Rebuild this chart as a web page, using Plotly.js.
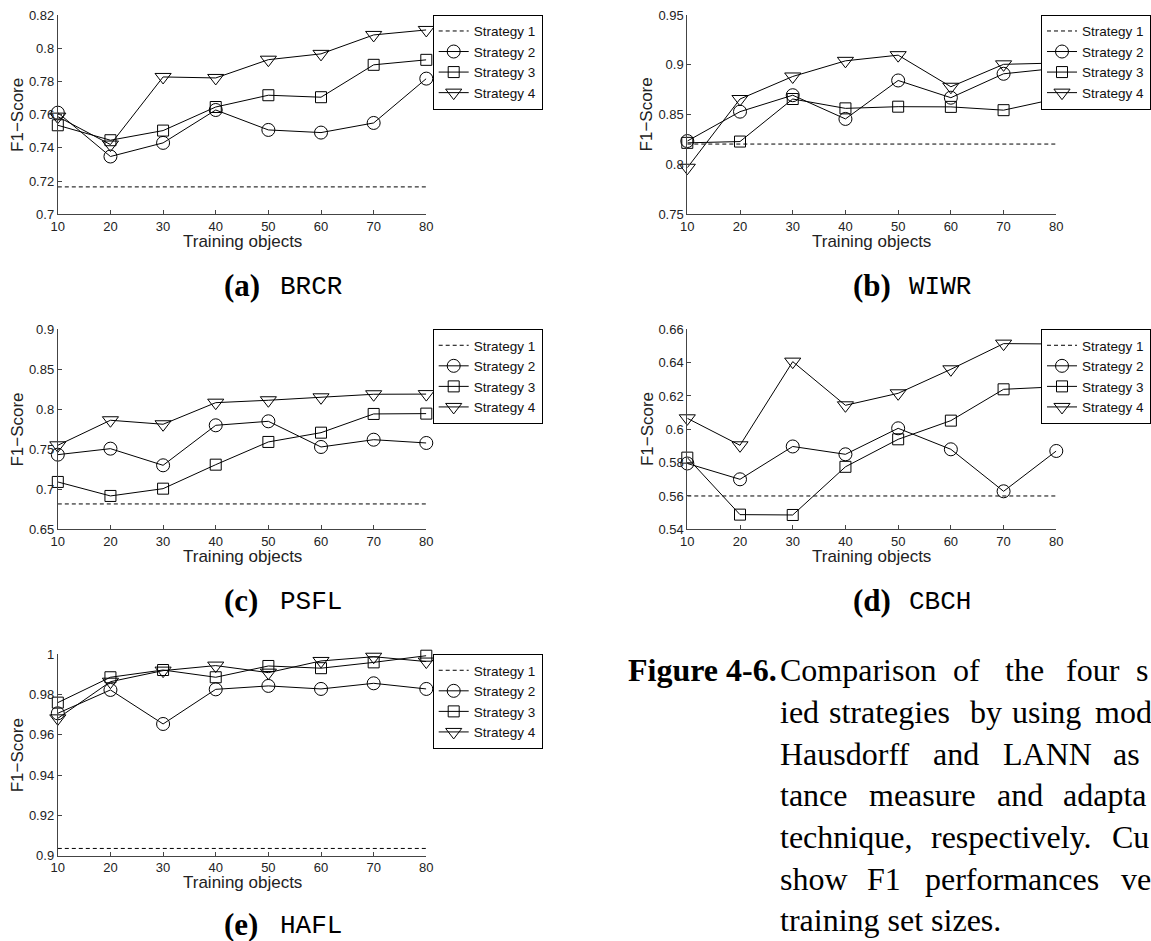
<!DOCTYPE html>
<html>
<head>
<meta charset="utf-8">
<script src="https://cdn.plot.ly/plotly-3.0.1.min.js"></script>
<style>
  html, body { margin: 0; padding: 0; background: #fff; overflow: hidden; }
  #fig { width: 1151px; height: 941px; }
</style>
</head>
<body>
<div id="fig"></div>
<script>
// Number of training objects on the x axis
const trainingObjects = [10, 20, 30, 40, 50, 60, 70, 80];
const strategyNames = ['Strategy 1', 'Strategy 2', 'Strategy 3', 'Strategy 4'];

// F1 scores per dataset. Strategy 1 does not use the training objects,
// so it is a single score per dataset drawn across the whole range.
const brcrStrategy1 = 0.7165;
const brcrStrategy2 = [0.7612, 0.7348, 0.7430, 0.7628, 0.7508, 0.7492, 0.7550, 0.7817];
const brcrStrategy3 = [0.7536, 0.7446, 0.7504, 0.7646, 0.7717, 0.7705, 0.7900, 0.7930];
const brcrStrategy4 = [0.7588, 0.7420, 0.7827, 0.7821, 0.7931, 0.7966, 0.8080, 0.8110];

const wiwrStrategy1 = 0.8205;
const wiwrStrategy2 = [0.8235, 0.8530, 0.8695, 0.8457, 0.8843, 0.8670, 0.8910, 0.8965];
const wiwrStrategy3 = [0.8217, 0.8230, 0.8657, 0.8563, 0.8580, 0.8578, 0.8545, 0.8660];
const wiwrStrategy4 = [0.7967, 0.8657, 0.8883, 0.9040, 0.9097, 0.8780, 0.9005, 0.9018];

const psflStrategy1 = 0.6817;
const psflStrategy2 = [0.7433, 0.7508, 0.7300, 0.7800, 0.7850, 0.7529, 0.7620, 0.7579];
const psflStrategy3 = [0.7092, 0.6917, 0.7008, 0.7308, 0.7592, 0.7708, 0.7942, 0.7946];
const psflStrategy4 = [0.7550, 0.7863, 0.7813, 0.8083, 0.8113, 0.8150, 0.8188, 0.8190];

const cbchStrategy1 = 0.5600;
const cbchStrategy2 = [0.5795, 0.5700, 0.5897, 0.5850, 0.6006, 0.5880, 0.5628, 0.5870];
const cbchStrategy3 = [0.5830, 0.5488, 0.5486, 0.5775, 0.5940, 0.6052, 0.6240, 0.6255];
const cbchStrategy4 = [0.6066, 0.5904, 0.6406, 0.6144, 0.6216, 0.6360, 0.6514, 0.6512];

const haflStrategy1 = 0.9036;
const haflStrategy2 = [0.9707, 0.9823, 0.9654, 0.9826, 0.9843, 0.9828, 0.9856, 0.9828];
const haflStrategy3 = [0.9760, 0.9886, 0.9922, 0.9886, 0.9942, 0.9931, 0.9960, 0.9993];
const haflStrategy4 = [0.9682, 0.9864, 0.9919, 0.9944, 0.9909, 0.9967, 0.9988, 0.9964];

// Sub-figure labels
const panelTags = ['(a)', '(b)', '(c)', '(d)', '(e)'];
const datasetNames = ['BRCR', 'WIWR', 'PSFL', 'CBCH', 'HAFL'];
const xTitle = 'Training objects';
const yTitle = 'F1\u2212Score';

// Y-axis ranges and tick steps of each panel
const yRanges = [[0.70, 0.82], [0.75, 0.95], [0.65, 0.90], [0.54, 0.66], [0.90, 1.00]];
const yDticks = [0.02, 0.05, 0.05, 0.02, 0.02];

const seriesByPanel = [
  [brcrStrategy1, brcrStrategy2, brcrStrategy3, brcrStrategy4],
  [wiwrStrategy1, wiwrStrategy2, wiwrStrategy3, wiwrStrategy4],
  [psflStrategy1, psflStrategy2, psflStrategy3, psflStrategy4],
  [cbchStrategy1, cbchStrategy2, cbchStrategy3, cbchStrategy4],
  [haflStrategy1, haflStrategy2, haflStrategy3, haflStrategy4]
];

// ---- page geometry (pixels) ----
const W = 1151, H = 941;
const fx = px => px / W;
const fy = px => 1 - px / H;

// plot boxes: [left, right, top, bottom] in pixels
const boxes = [
  [57.8, 426.3, 15.0, 214.3],
  [687.3, 1056.3, 15.0, 214.3],
  [57.8, 426.3, 329.3, 529.3],
  [687.3, 1056.3, 329.3, 529.3],
  [57.8, 426.3, 654.3, 855.7]
];

const SANS = 'Liberation Sans, Arial, sans-serif';
const SERIF = 'Liberation Serif, Times New Roman, serif';
const MONO = 'Liberation Mono, Courier New, monospace';

const markerStyles = [
  null,
  { symbol: 'circle-open', size: 13 },
  { symbol: 'square-open', size: 11 },
  { symbol: 'triangle-down-open', size: 14 }
];

const traces = [];
const layout = {
  width: W, height: H,
  margin: { l: 0, r: 0, t: 0, b: 0 },
  paper_bgcolor: '#fff', plot_bgcolor: 'rgba(0,0,0,0)',
  showlegend: true,
  font: { family: SANS, color: '#222' },
  annotations: []
};

boxes.forEach((b, i) => {
  const n = i === 0 ? '' : String(i + 1);
  const xa = 'x' + n, ya = 'y' + n;
  const legendId = 'legend' + n;
  const series = seriesByPanel[i];

  strategyNames.forEach((name, k) => {
    const base = {
      x: trainingObjects,
      name: name,
      xaxis: xa, yaxis: ya,
      legend: legendId,
      cliponaxis: false,
      hoverinfo: 'skip'
    };
    if (k === 0) {
      traces.push(Object.assign(base, {
        y: trainingObjects.map(() => series[0]),
        mode: 'lines',
        line: { color: '#000', width: 1, dash: '4px,3px' }
      }));
    } else {
      const m = markerStyles[k];
      traces.push(Object.assign(base, {
        y: series[k],
        mode: 'lines+markers',
        line: { color: '#000', width: 1 },
        marker: { symbol: m.symbol, size: m.size, color: '#000', line: { color: '#000', width: 1 } }
      }));
    }
  });

  const axisCommon = {
    showline: true, linecolor: '#444', linewidth: 1,
    showgrid: false, zeroline: false, mirror: false,
    ticks: 'inside', ticklen: 4, tickwidth: 1, tickcolor: '#444',
    tickfont: { family: SANS, size: 13, color: '#222' },
    fixedrange: true
  };

  layout['xaxis' + n] = Object.assign({}, axisCommon, {
    domain: [fx(b[0]), fx(b[1])],
    anchor: ya,
    range: [10, 80],
    tickmode: 'array', tickvals: trainingObjects
  });
  layout['yaxis' + n] = Object.assign({}, axisCommon, {
    domain: [fy(b[3]), fy(b[2])],
    anchor: xa,
    range: yRanges[i],
    tick0: yRanges[i][0], dtick: yDticks[i]
  });

  // axis titles, placed relative to each plot area
  layout.annotations.push({
    xref: xa + ' domain', yref: ya + ' domain', showarrow: false,
    x: 0.5, xanchor: 'center', y: 0, yanchor: 'middle', yshift: -27,
    text: xTitle, font: { family: SANS, size: 17, color: '#222' }
  });
  layout.annotations.push({
    xref: xa + ' domain', yref: ya + ' domain', showarrow: false,
    x: 0, xanchor: 'center', xshift: -40.5, y: 0.5, yanchor: 'middle',
    textangle: -90,
    text: yTitle, font: { family: SANS, size: 17, color: '#222' }
  });

  const rightColumn = (i === 1 || i === 3);
  layout[legendId] = {
    x: rightColumn ? 1 : fx(432.7),
    xanchor: rightColumn ? 'right' : 'left',
    y: fy(b[2] - 0.3), yanchor: 'top',
    bgcolor: '#fff', bordercolor: '#000', borderwidth: 1,
    font: { family: SANS, size: 13.5, color: '#111' },
    tracegroupgap: 0, itemwidth: 30,
    itemclick: false, itemdoubleclick: false
  };

  // sub-figure caption under each panel
  const capBase = b[3] + 80.7 - (i === 4 ? 3 : 0);
  const dx = b[0] - 57.8;
  layout.annotations.push({
    xref: 'paper', yref: 'paper', showarrow: false,
    x: fx(221.7 + dx), xanchor: 'left',
    y: fy(capBase - 9.3), yanchor: 'middle',
    text: '<b>' + panelTags[i] + '</b>',
    font: { family: SERIF, size: 31, color: '#000' }
  });
  layout.annotations.push({
    xref: 'paper', yref: 'paper', showarrow: false,
    x: fx(277.7 + dx), xanchor: 'left',
    y: fy(capBase - 7.8), yanchor: 'middle',
    text: datasetNames[i],
    font: { family: MONO, size: 26, color: '#000' }
  });
});

// ---- figure caption, justified word by word ----
const captionLines = [
  [['Comparison', 778.3], ['of', 950.5], ['the', 1003.4], ['four', 1064.3], ['s', 1134.0]],
  [['ied', 778.3], ['strategies', 827.2], ['by', 967.6], ['using', 1009.8], ['mod', 1092.6]],
  [['Hausdorff', 778.3], ['and', 930.7], ['LANN', 1001.4], ['as', 1111.4]],
  [['tance', 778.3], ['measure', 866.7], ['and', 994.7], ['adapta', 1060.6]],
  [['technique,', 778.3], ['respectively.', 928.8], ['Cu', 1109.5]],
  [['show', 778.3], ['F1', 864.9], ['performances', 923.2], ['ve', 1118.9]],
  [['training set sizes.', 778.3]]
];
const captionBaselines = [680, 721.7, 763.3, 805, 846.7, 888.3, 930];
const CAP = 32;

layout.annotations.push({
  xref: 'paper', yref: 'paper', showarrow: false,
  x: fx(778.5), xanchor: 'right',
  y: fy(captionBaselines[0] - 0.3 * CAP), yanchor: 'middle',
  text: '<b>Figure 4-6.</b>',
  font: { family: SERIF, size: CAP, color: '#000' }
});
captionLines.forEach((line, li) => {
  line.forEach(([word, xpx]) => {
    layout.annotations.push({
      xref: 'paper', yref: 'paper', showarrow: false,
      x: fx(xpx), xanchor: 'left',
      y: fy(captionBaselines[li] - 0.3 * CAP), yanchor: 'middle',
      text: word,
      font: { family: SERIF, size: CAP, color: '#000' }
    });
  });
});

Plotly.newPlot('fig', traces, layout, { staticPlot: true, displayModeBar: false });
</script>
</body>
</html>
